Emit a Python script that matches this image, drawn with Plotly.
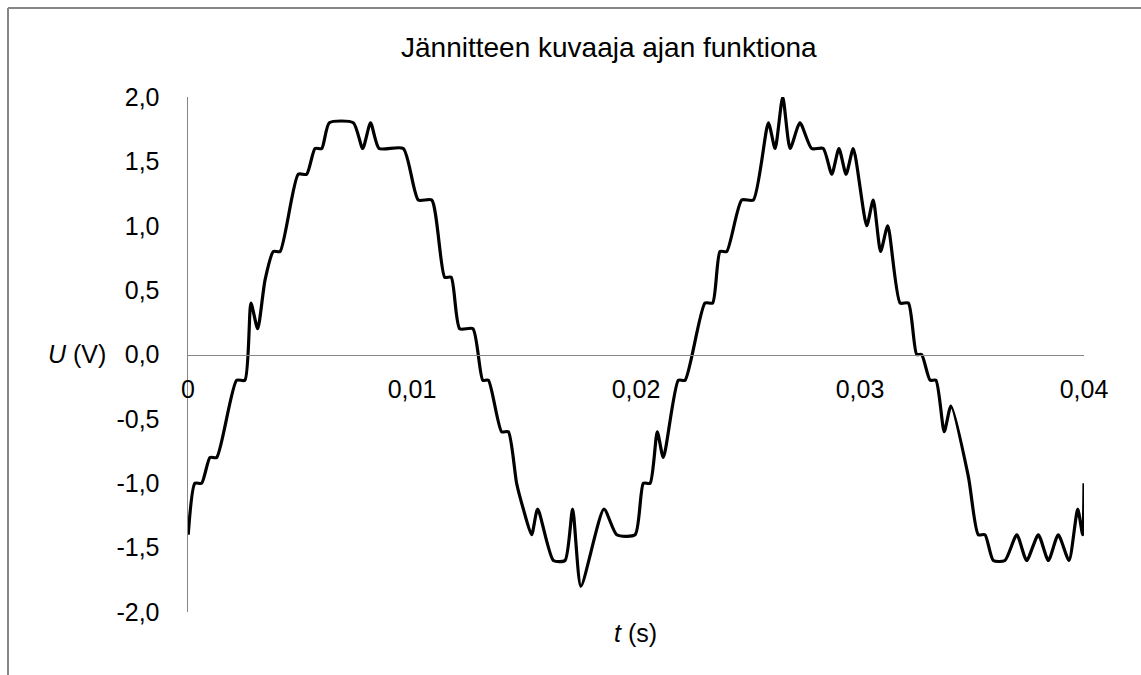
import plotly.graph_objects as go

# Time (s) and voltage (V)
t = [0.00001, 0.00031, 0.00061, 0.00098, 0.00128, 0.00217, 0.00254, 0.00281, 0.00311, 0.00344,
     0.00381, 0.00411, 0.00492, 0.00530, 0.00567, 0.00597, 0.00631, 0.00738, 0.00780, 0.00815,
     0.00853, 0.00961, 0.01028, 0.01088, 0.01146, 0.01175, 0.01213, 0.01272, 0.01316, 0.01341,
     0.01400, 0.01430, 0.01467, 0.01497, 0.01534, 0.01561, 0.01631, 0.01683, 0.01717, 0.01754,
     0.01857, 0.01914, 0.01996, 0.02033, 0.02063, 0.02095, 0.02122, 0.02189, 0.02219, 0.02308,
     0.02342, 0.02375, 0.02405, 0.02472, 0.02524, 0.02591, 0.02621, 0.02655, 0.02688, 0.02732,
     0.02784, 0.02836, 0.02874, 0.02906, 0.02938, 0.02970, 0.03030, 0.03059, 0.03092, 0.03124,
     0.03179, 0.03216, 0.03253, 0.03275, 0.03313, 0.03339, 0.03376, 0.03406, 0.03484, 0.03528,
     0.03558, 0.03595, 0.03647, 0.03700, 0.03744, 0.03796, 0.03841, 0.03885, 0.03933, 0.03972,
     0.03994, 0.04000]
u = [-1.4, -1.0, -1.0, -0.8, -0.8, -0.2, -0.2, 0.4, 0.2, 0.58,
     0.8, 0.8, 1.4, 1.4, 1.6, 1.6, 1.8, 1.8, 1.6, 1.8,
     1.6, 1.6, 1.2, 1.2, 0.6, 0.6, 0.2, 0.2, -0.2, -0.2,
     -0.6, -0.6, -1.0, -1.2, -1.4, -1.2, -1.6, -1.6, -1.2, -1.8,
     -1.2, -1.4, -1.4, -1.0, -1.0, -0.6, -0.8, -0.2, -0.2, 0.4,
     0.4, 0.8, 0.8, 1.2, 1.2, 1.8, 1.6, 2.0, 1.6, 1.8,
     1.6, 1.6, 1.4, 1.6, 1.4, 1.6, 1.0, 1.2, 0.8, 1.0,
     0.4, 0.4, 0.0, 0.0, -0.2, -0.2, -0.6, -0.4, -0.95, -1.4,
     -1.4, -1.6, -1.6, -1.4, -1.6, -1.4, -1.6, -1.4, -1.6, -1.2,
     -1.4, -1.0]

x_ticks = [0, 0.01, 0.02, 0.03, 0.04]
x_tick_labels = ["0", "0,01", "0,02", "0,03", "0,04"]
y_ticks = [2.0, 1.5, 1.0, 0.5, 0.0, -0.5, -1.0, -1.5, -2.0]
y_tick_labels = ["2,0", "1,5", "1,0", "0,5", "0,0", "-0,5", "-1,0", "-1,5", "-2,0"]

title_text = "Jännitteen kuvaaja ajan funktiona"
x_title = "<i>t</i> (s)"
y_title = "<i>U</i> (V)"

W, H = 1141, 675
L, R, T, B = 188, 1084, 97, 612
FONT = "Liberation Sans, Arial, sans-serif"
AX = "#868686"

def px(xp):
    return (xp - L) / (R - L)

def py(yp):
    return (B - yp) / (B - T)

fig = go.Figure(go.Scatter(
    x=t, y=u, mode="lines",
    line=dict(color="black", width=3.2, shape="spline", smoothing=0.6),
    hoverinfo="skip", showlegend=False,
))

fig.update_layout(
    width=W, height=H, autosize=False,
    margin=dict(l=L, r=W - R, t=T, b=H - B, pad=0),
    paper_bgcolor="white", plot_bgcolor="white",
    font=dict(family=FONT, color="black", size=25),
    showlegend=False,
    hovermode=False,
    xaxis=dict(
        range=[0, 0.04], tickvals=x_ticks, ticktext=x_tick_labels,
        showgrid=False, zeroline=False, showline=True, linecolor=AX, linewidth=1.5,
        anchor="free", position=0.5, ticks="", ticklabelstandoff=12,
        tickfont=dict(size=25, family=FONT, color="black"),
    ),
    yaxis=dict(
        range=[-2, 2], tickvals=y_ticks, ticktext=y_tick_labels,
        showgrid=False, zeroline=False, showline=True, linecolor=AX, linewidth=1.5,
        ticks="", ticklabelstandoff=22,
        tickfont=dict(size=25, family=FONT, color="black"),
    ),
    shapes=[
        dict(type="line", xref="paper", yref="paper", x0=px(8), x1=px(1160), y0=py(8), y1=py(8),
             line=dict(color=AX, width=2)),
        dict(type="line", xref="paper", yref="paper", x0=px(8), x1=px(8), y0=py(8), y1=py(700),
             line=dict(color=AX, width=2)),
    ],
    annotations=[
        dict(text=title_text, xref="paper", yref="paper", x=px(609), y=py(48),
             xanchor="center", yanchor="middle", showarrow=False,
             font=dict(size=28, family=FONT, color="black")),
        dict(text=y_title, xref="paper", yref="paper", x=px(77), y=py(353.5),
             xanchor="center", yanchor="middle", showarrow=False,
             font=dict(size=25, family=FONT, color="black")),
        dict(text=x_title, xref="paper", yref="paper", x=px(635), y=py(633),
             xanchor="center", yanchor="middle", showarrow=False,
             font=dict(size=25, family=FONT, color="black")),
    ],
)

fig.write_html("out.html", config={"displayModeBar": False, "staticPlot": True},
               post_script="document.body.style.margin='0';document.body.style.overflow='hidden';")
